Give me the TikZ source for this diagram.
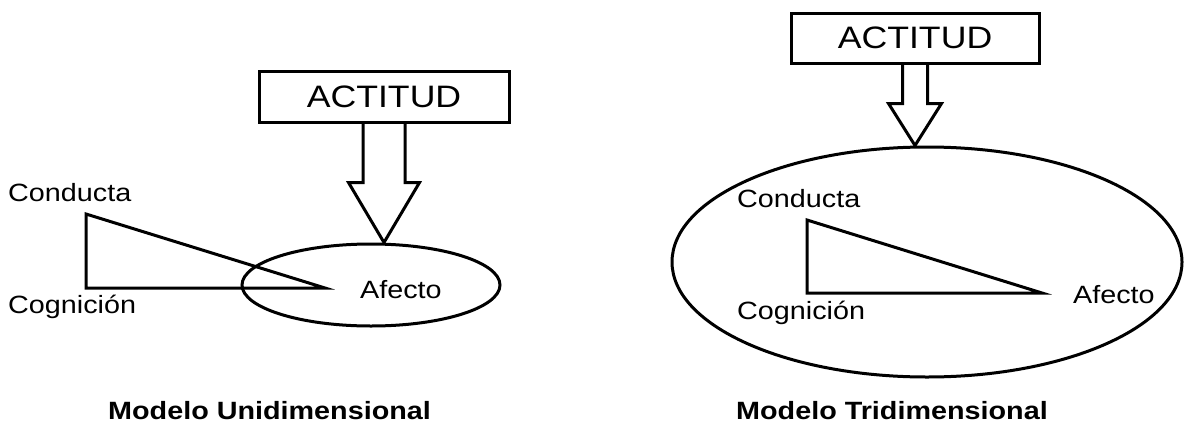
\documentclass[tikz,border=0pt]{standalone}
\usepackage{fontspec}
\setmainfont{Liberation Sans}[FakeStretch=1.15]
\usetikzlibrary{calc,shapes.geometric}
\tikzset{
  box/.style  ={draw,line width=3pt,minimum width=250pt,minimum height=51pt,
                inner sep=0pt,font=\fontsize{31}{36}\selectfont},
  lbl/.style  ={anchor=west,inner sep=0pt,font=\fontsize{25}{30}\selectfont},
  title/.style={anchor=west,inner sep=0pt,font=\fontsize{25}{30}\selectfont\bfseries},
  orb/.style  ={draw,ellipse,line width=3pt,inner sep=0pt},
  tri/.style  ={line width=3pt,line join=miter},
}
% hollow block arrow: from node, to node, shaft half width, head half width, head length
\newcommand{\blockar}[5]{%
  \draw[tri] let \p1=(#1.south), \p2=(#2.north) in
    (\x1-#3,\y1) -- (\x1-#3,\y2+#5) -- (\x1-#4,\y2+#5) -- (\x1,\y2)
    -- (\x1+#4,\y2+#5) -- (\x1+#3,\y2+#5) -- (\x1+#3,\y1);}

\begin{document}
\begin{tikzpicture}[x=1pt,y=-1pt]
\useasboundingbox (0,0) rectangle (1196,423);
% Unidimensional
\node[box] (actL) at (384,97) {ACTITUD};
\node[orb,minimum width=258pt,minimum height=82pt] (orbL) at (371,285) {};
\coordinate (conL) at (86,214);
\coordinate (cogL) at (86,288);
\coordinate (afeL) at (325,288);
\draw[tri] (conL) -- (cogL) -- (afeL) -- cycle;
\node[lbl] (tconL) at (8,193) {Conducta};
\node[lbl] (tcogL) at (8,307) {Cognición};
\node[lbl] (tafeL) at (360,290) {Afecto};
\blockar{actL}{orbL}{21pt}{35.5pt}{60pt}
\node[title] (capL) at (108,411) {Modelo Unidimensional};
% Tridimensional
\node[box,minimum width=248pt,minimum height=50pt] (actR) at (915,38) {ACTITUD};
\node[orb,minimum width=510pt,minimum height=230pt] (orbR) at (927,262) {};
\coordinate (conR) at (807,220);
\coordinate (cogR) at (807,293);
\coordinate (afeR) at (1042,293);
\draw[tri] (conR) -- (cogR) -- (afeR) -- cycle;
\node[lbl] (tconR) at (737,199) {Conducta};
\node[lbl] (tcogR) at (737,313) {Cognición};
\node[lbl] (tafeR) at (1073,295) {Afecto};
\blockar{actR}{orbR}{12.5pt}{26.5pt}{42pt}
\node[title] (capR) at (736,411) {Modelo Tridimensional};
\end{tikzpicture}
\end{document}
